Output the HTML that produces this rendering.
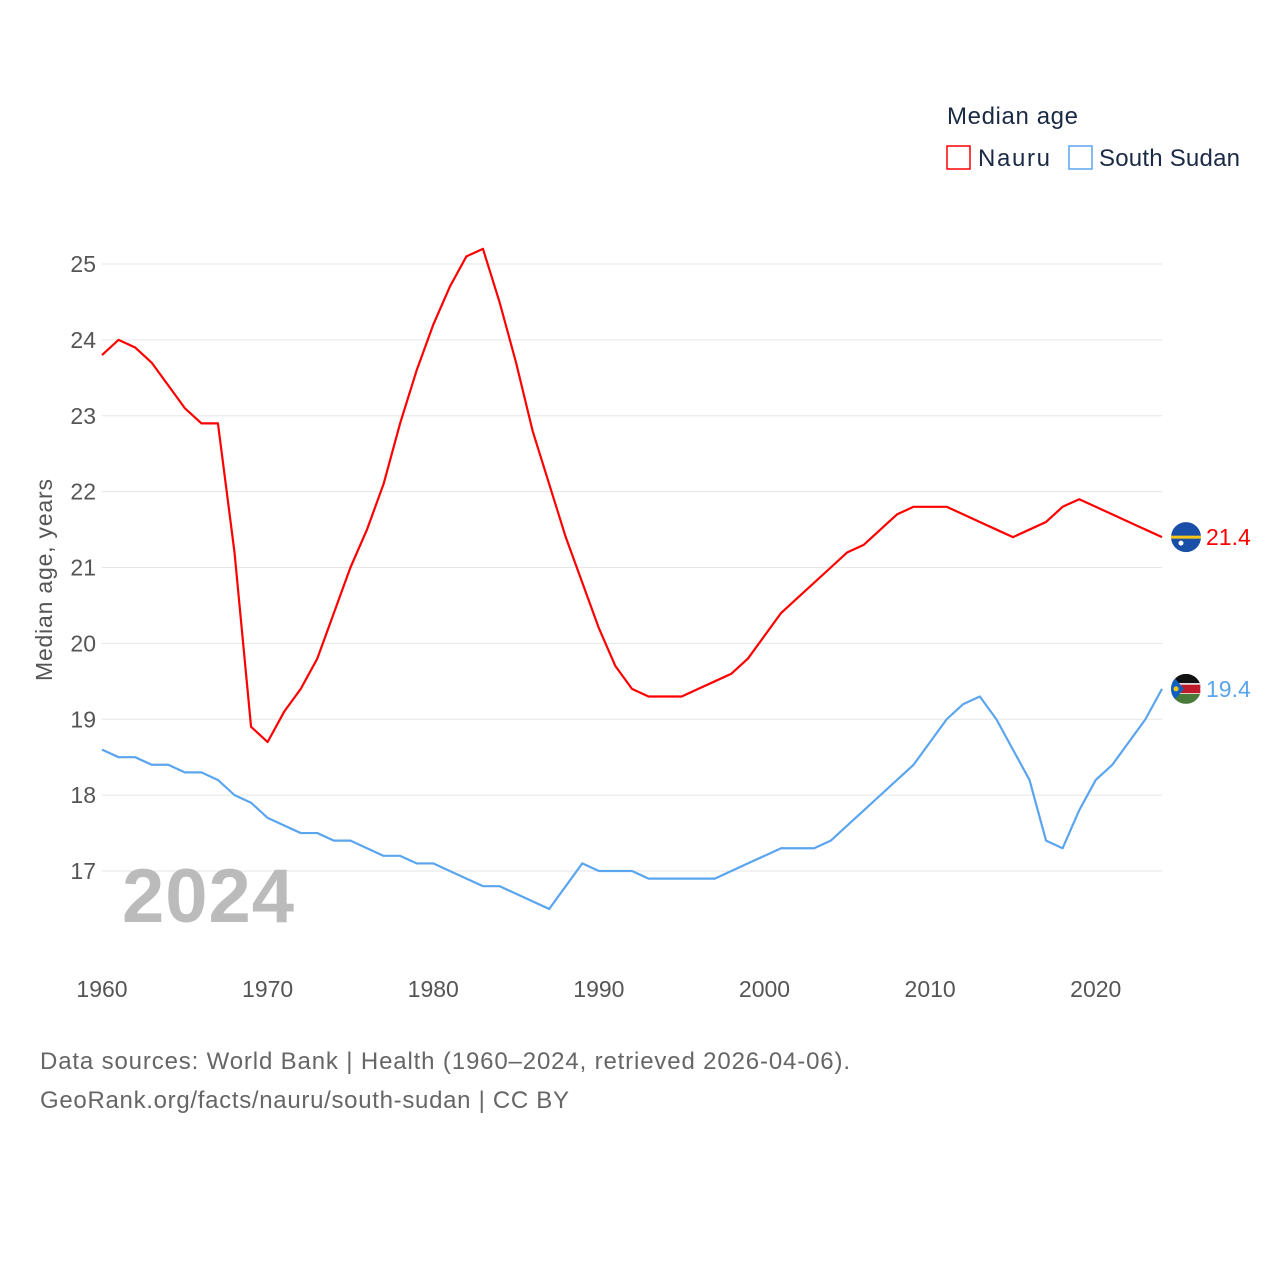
<!DOCTYPE html>
<html><head><meta charset="utf-8"><style>
body{margin:0;background:#fff;}
svg text{font-family:"Liberation Sans",sans-serif;}
</style></head><body>
<svg width="1280" height="1280" viewBox="0 0 1280 1280" xmlns="http://www.w3.org/2000/svg">
<g id="grid"></g>
<g id="yt"></g>
<g id="xt"></g>
<text x="52" y="580" transform="rotate(-90 52 580)" text-anchor="middle" font-size="23" fill="#555" textLength="202">Median age, years</text>
<text x="122" y="922" font-size="76" font-weight="bold" fill="#bbb" textLength="172">2024</text>
<g id="series"></g>
<text x="947" y="124" font-size="24" fill="#1a2a44" textLength="131">Median age</text>
<g><rect x="947" y="146" width="23" height="23" fill="none" stroke="#f00" stroke-width="1.5"/><text x="978" y="166" font-size="24" fill="#1a2a44" textLength="72">Nauru</text></g>
<g><rect x="1069" y="146" width="23" height="23" fill="none" stroke="#5aa5ee" stroke-width="1.5"/><text x="1099" y="166" font-size="24" fill="#1a2a44" textLength="141">South Sudan</text></g>
<text x="40" y="1069" font-size="24" fill="#666" textLength="810">Data sources: World Bank | Health (1960–2024, retrieved 2026-04-06).</text>
<text x="40" y="1108" font-size="24" fill="#666" textLength="529">GeoRank.org/facts/nauru/south-sudan | CC BY</text>
</svg>
<script>
const years=[];for(let y=1960;y<=2024;y++)years.push(y);
const nauru=[23.8,24.0,23.9,23.7,23.4,23.1,22.9,22.9,21.2,18.9,18.7,19.1,19.4,19.8,20.4,21.0,21.5,22.1,22.9,23.6,24.2,24.7,25.1,25.2,24.5,23.7,22.8,22.1,21.4,20.8,20.2,19.7,19.4,19.3,19.3,19.3,19.4,19.5,19.6,19.8,20.1,20.4,20.6,20.8,21.0,21.2,21.3,21.5,21.7,21.8,21.8,21.8,21.7,21.6,21.5,21.4,21.5,21.6,21.8,21.9,21.8,21.7,21.6,21.5,21.4];
const southSudan=[18.6,18.5,18.5,18.4,18.4,18.3,18.3,18.2,18.0,17.9,17.7,17.6,17.5,17.5,17.4,17.4,17.3,17.2,17.2,17.1,17.1,17.0,16.9,16.8,16.8,16.7,16.6,16.5,16.8,17.1,17.0,17.0,17.0,16.9,16.9,16.9,16.9,16.9,17.0,17.1,17.2,17.3,17.3,17.3,17.4,17.6,17.8,18.0,18.2,18.4,18.7,19.0,19.2,19.3,19.0,18.6,18.2,17.4,17.3,17.8,18.2,18.4,18.7,19.0,19.4];
const yTicks=[17,18,19,20,21,22,23,24,25];
const xTicks=[1960,1970,1980,1990,2000,2010,2020];
const NS="http://www.w3.org/2000/svg";
const X=y=>102+(y-1960)*(1162-102)/64;
const Y=v=>871-(v-17)*(871-264)/8;
function mk(t,a,p){const e=document.createElementNS(NS,t);for(const k in a)e.setAttribute(k,a[k]);p.appendChild(e);return e;}
const grid=document.getElementById('grid'),yt=document.getElementById('yt'),xt=document.getElementById('xt'),ser=document.getElementById('series');
yTicks.forEach(v=>{
 const l=mk('line',{x1:102,x2:1162,y1:Y(v),y2:Y(v),stroke:'#e6e6e6','stroke-width':1},grid);
 
 
 const t=mk('text',{x:96,y:Y(v)+8,'text-anchor':'end','font-size':23,fill:'#555'},yt);t.textContent=v;
 
 
});
xTicks.forEach(v=>{
 const t=mk('text',{x:X(v),y:997,'text-anchor':'middle','font-size':23,fill:'#555'},xt);t.textContent=v;
 
 
});
function line(data,color,name){
 const p=mk('polyline',{points:data.map((v,i)=>X(years[i])+','+Y(v)).join(' '),fill:'none',stroke:color,'stroke-width':2.2,'stroke-linejoin':'round'},ser);
 
 
 const last=data[data.length-1];
 const t=mk('text',{x:1206,y:Y(last)+8,'font-size':23,fill:color},ser);t.textContent=last.toFixed(1);
 
 
 return Y(last);
}
const yn=line(nauru,'#f00','nauru');
const ys=line(southSudan,'#5aa5ee','south-sudan');
const fn=mk('g',{},ser);


mk('circle',{cx:1186,cy:yn,r:15,fill:'#1a4fa8'},fn);
mk('rect',{x:1171,y:yn-1.5,width:30,height:3,fill:'#f5c518'},fn);
mk('circle',{cx:1181,cy:yn+6,r:2.5,fill:'#fff'},fn);
const fs=mk('g',{},ser);


mk('clipPath',{id:'cs'},fs);
mk('circle',{cx:1186,cy:ys,r:15},document.getElementById('cs'));
const gs=mk('g',{'clip-path':'url(#cs)'},fs);
mk('rect',{x:1171,y:ys-15,width:30,height:10,fill:'#111'},gs);
mk('rect',{x:1171,y:ys-5,width:30,height:10,fill:'#c0192a',stroke:'#fff','stroke-width':1.5},gs);
mk('rect',{x:1171,y:ys+5,width:30,height:10,fill:'#4a7a3a'},gs);
mk('polygon',{points:`1171,${ys-15} 1184,${ys} 1171,${ys+15}`,fill:'#1060c0'},gs);
mk('circle',{cx:1176,cy:ys,r:2.5,fill:'#f5c518'},gs);
</script>
</body></html>
